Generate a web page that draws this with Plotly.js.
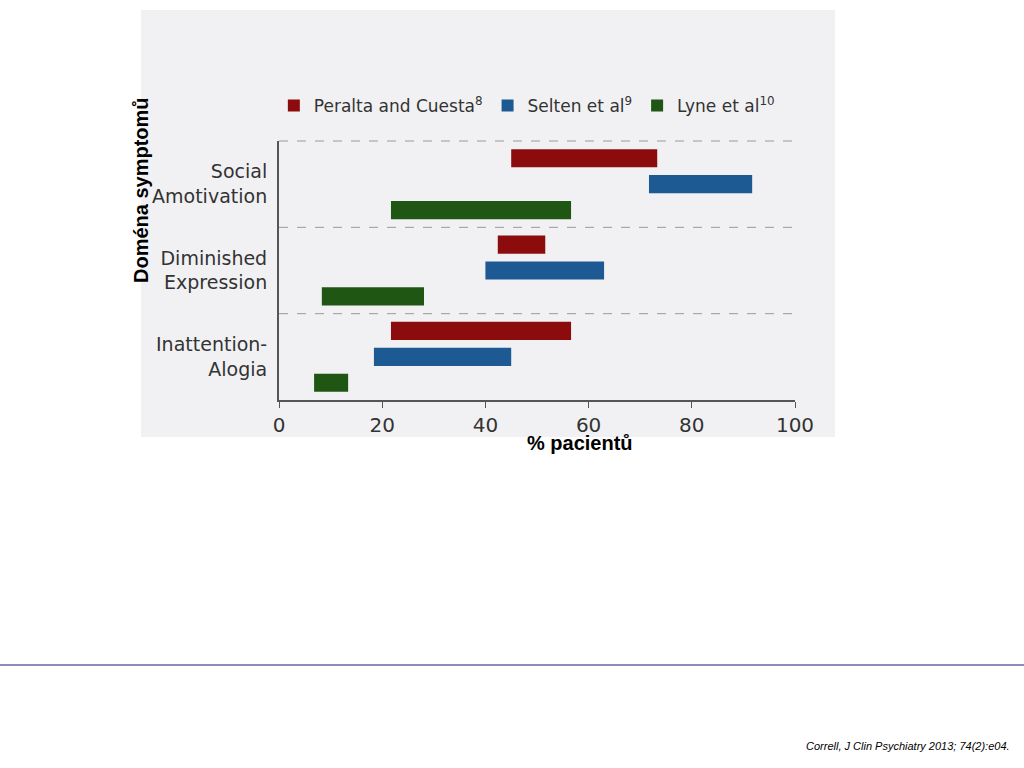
<!DOCTYPE html>
<html><head><meta charset="utf-8">
<script src="https://cdn.plot.ly/plotly-3.0.1.min.js"></script>
<style>body{margin:0}#chart{width:1024px;height:768px}</style>
</head><body><div id="chart"></div>
<script>
const categories = ['Social<br>Amotivation', 'Diminished<br>Expression', 'Inattention-<br>Alogia'];
const seriesNames = ['Peralta and Cuesta<sup>8</sup>', 'Selten et al<sup>9</sup>', 'Lyne et al<sup>10</sup>'];
const seriesColors = ['#8c0c0e', '#1d5a94', '#1f5614'];
const startVals = [[45, 42.4, 21.7], [71.7, 40, 18.4], [21.7, 8.3, 6.8]];
const endVals = [[73.3, 51.6, 56.6], [91.7, 63, 45], [56.6, 28.1, 13.4]];
const xTicks = [0, 20, 40, 60, 80, 100];

const data = seriesNames.map((name, i) => ({
  type: 'bar', orientation: 'h', name: name,
  y: categories,
  base: startVals[i],
  x: endVals[i].map((e, j) => e - startVals[i][j]),
  marker: {color: seriesColors[i]},
  hoverinfo: 'skip'
}));

const font = {family: 'DejaVu Sans', color: '#333', size: 17};
const dash = y => ({type: 'line', xref: 'paper', yref: 'paper', x0: 0, x1: 1, y0: y, y1: y,
  line: {color: '#999', width: 1, dash: 'dash'}});

const layout = {
  width: 1024, height: 768,
  margin: {l: 279, r: 229, t: 141, b: 368},
  paper_bgcolor: 'white', plot_bgcolor: 'rgba(0,0,0,0)',
  barmode: 'group', bargap: 0.1, bargroupgap: 0.3,
  font: font,
  showlegend: true,
  legend: {orientation: 'h', x: -0.01, xanchor: 'left', y: (400 - 106) / 259, yanchor: 'middle',
    font: {family: 'DejaVu Sans', size: 17, color: '#333'}, bgcolor: 'rgba(0,0,0,0)'},
  xaxis: {range: [0, 100], tickvals: xTicks, showgrid: false, zeroline: false,
    showline: true, linecolor: '#555', linewidth: 2, ticks: 'outside', ticklen: 6,
    tickcolor: '#555', tickfont: {size: 20, color: '#333'}},
  yaxis: {categoryorder: 'array', categoryarray: categories, autorange: 'reversed',
    showgrid: false, showline: true, linecolor: '#555', linewidth: 2,
    ticks: '', ticklabelstandoff: 6, tickfont: {size: 19, color: '#333'}},
  shapes: [
    {type: 'rect', xref: 'paper', yref: 'paper', layer: 'below',
     x0: (141 - 279) / 516, x1: (835 - 279) / 516, y0: -(437 - 400) / 259, y1: (400 - 10) / 259,
     fillcolor: '#f1f1f3', line: {width: 0}},
    dash(1), dash(2 / 3), dash(1 / 3),
    {type: 'line', xref: 'paper', yref: 'paper', x0: -279 / 516, x1: (1024 - 279) / 516,
     y0: -(665 - 400) / 259, y1: -(665 - 400) / 259, line: {color: '#1f1a6e', width: 1}}
  ],
  annotations: [
    {xref: 'paper', yref: 'paper', x: (128 - 279) / 516, y: (400 - 190) / 259, yanchor: 'middle',
     textangle: -90, showarrow: false,
     text: '<b>Doména symptomů</b>', font: {family: 'Liberation Sans', size: 20, color: '#000'}},
    {xref: 'paper', yref: 'paper', x: (580 - 279) / 516, y: -(443 - 400) / 259, yanchor: 'middle',
     showarrow: false,
     text: '<b>% pacientů</b>', font: {family: 'Liberation Sans', size: 20, color: '#000'}},
    {xref: 'paper', yref: 'paper', x: (1012 - 279) / 516, xanchor: 'right', y: -(746 - 400) / 259,
     yanchor: 'middle', showarrow: false, text: '<i>Correll, J Clin Psychiatry 2013; 74(2):e04.</i>',
     font: {family: 'Liberation Sans', size: 11, color: '#000'}}
  ]
};
Plotly.newPlot('chart', data, layout, {displayModeBar: false});
</script></body></html>
